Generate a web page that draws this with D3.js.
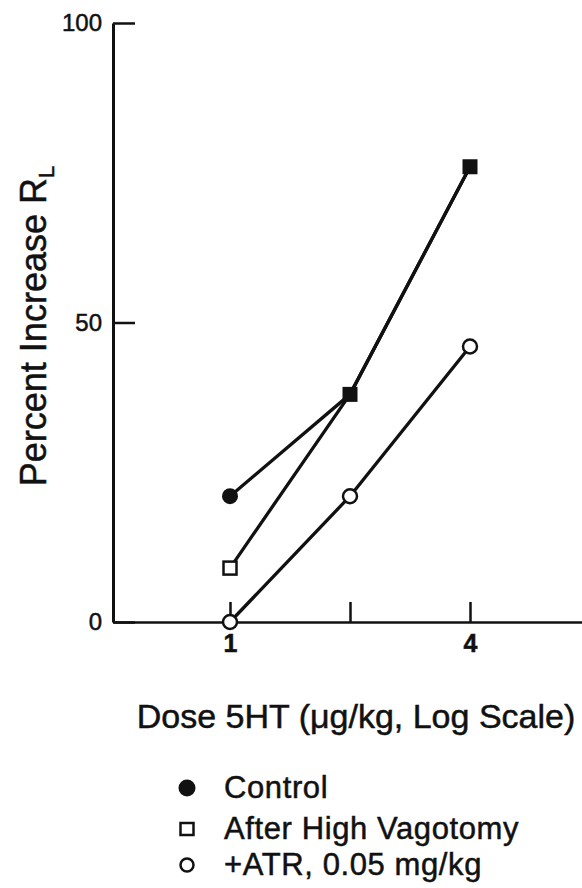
<!DOCTYPE html>
<html>
<head>
<meta charset="utf-8">
<script src="https://cdn.jsdelivr.net/npm/d3@7"></script>
<style>
  html, body { margin: 0; padding: 0; background: #fff; }
  svg { display: block; }
  text { font-family: "Liberation Sans", Arial, Helvetica, sans-serif; fill: #111; stroke: #111; stroke-width: 0.5px; }
</style>
</head>
<body>
<svg id="chart" width="582" height="888"></svg>
<script>
// Dose of 5HT (µg/kg), plotted on a log scale
const doses = [1, 2, 4];
const xTickValues = [1, 2, 4];
const xTickLabels = ["1", "", "4"];
const yTickValues = [0, 50, 100];

// Percent increase in lung resistance (R_L)
const control   = [21, 38, 76];
const vagotomy  = [9, 38, 76];
const atropine  = [0, 21, 46];

const legendLabels = ["Control", "After High Vagotomy", "+ATR, 0.05 mg/kg"];

const svg = d3.select("#chart");
const ink = "#111";

// scales
const x = d3.scaleLog().domain([1, 4]).range([230, 470]);
const y = d3.scaleLinear().domain([0, 100]).range([622, 23]);
const axisLeftX = 113, axisRightX = 582;
const xFull = x.copy().domain([x.invert(axisLeftX), x.invert(axisRightX)]).range([axisLeftX, axisRightX]);

// y axis: ticks point into the plot, labels to the left
const yAxis = d3.axisLeft(y)
  .tickValues(yTickValues)
  .tickSizeInner(-22)
  .tickSizeOuter(0)
  .tickPadding(11)
  .tickFormat(d3.format("d"));
const gy = svg.append("g").attr("transform", `translate(${axisLeftX},0)`).call(yAxis);
gy.select(".domain").attr("stroke", ink).attr("stroke-width", 3);
gy.selectAll(".tick line").attr("stroke", ink).attr("stroke-width", 2.5);
gy.selectAll(".tick text")
  .attr("font-size", 24)
  .attr("font-family", "Liberation Sans, Arial, sans-serif")
  .attr("fill", ink);

// x axis: ticks point upward
const xAxis = d3.axisBottom(xFull)
  .tickValues(xTickValues)
  .tickSizeInner(-20)
  .tickSizeOuter(0)
  .tickPadding(12)
  .tickFormat((d, i) => xTickLabels[i]);
const gx = svg.append("g").attr("transform", `translate(0,${y(0)})`).call(xAxis);
gx.select(".domain").attr("stroke", ink).attr("stroke-width", 2.5);
gx.selectAll(".tick line").attr("stroke", ink).attr("stroke-width", 2.5);
gx.selectAll(".tick text")
  .attr("font-size", 25)
  .attr("font-weight", "bold")
  .attr("font-family", "Liberation Sans, Arial, sans-serif")
  .attr("fill", ink);

// axis titles
const yTitle = svg.append("text")
  .attr("transform", `translate(46,326) rotate(-90)`)
  .attr("text-anchor", "middle")
  .attr("font-size", 36);
yTitle.append("tspan").text("Percent Increase R");
yTitle.append("tspan").attr("font-size", 22).attr("dy", 8).text("L");

svg.append("text")
  .attr("x", 356).attr("y", 728)
  .attr("text-anchor", "middle")
  .attr("font-size", 34)
  .attr("letter-spacing", 0)
  .text("Dose 5HT (\u03bcg/kg, Log Scale)");

// series lines
const line = d3.line().x(d => x(d[0])).y(d => y(d[1]));
const plot = svg.append("g");
[control, vagotomy, atropine].forEach(vals => {
  plot.append("path")
    .datum(doses.map((d, i) => [d, vals[i]]))
    .attr("d", line)
    .attr("fill", "none")
    .attr("stroke", ink)
    .attr("stroke-width", 3.3)
    .attr("stroke-linejoin", "round");
});

// markers: where control and vagotomy coincide, a filled square marks both
const markers = svg.append("g");
doses.forEach((d, i) => {
  if (control[i] === vagotomy[i]) {
    markers.append("rect")
      .attr("x", x(d) - 7.5).attr("y", y(control[i]) - 7.5)
      .attr("width", 15).attr("height", 15)
      .attr("fill", ink);
  } else {
    markers.append("circle")
      .attr("cx", x(d)).attr("cy", y(control[i])).attr("r", 8)
      .attr("fill", ink);
    markers.append("rect")
      .attr("x", x(d) - 6.5).attr("y", y(vagotomy[i]) - 6.5)
      .attr("width", 13).attr("height", 13)
      .attr("fill", "#fff").attr("stroke", ink).attr("stroke-width", 2.5);
  }
  markers.append("circle")
    .attr("cx", x(d)).attr("cy", y(atropine[i])).attr("r", 7)
    .attr("fill", "#fff").attr("stroke", ink).attr("stroke-width", 2.5);
});

// legend
const legendX = 187, textX = 224;
const legendRows = [788, 829, 865];
const lg = svg.append("g");
lg.append("circle").attr("cx", legendX).attr("cy", legendRows[0]).attr("r", 8.5).attr("fill", ink);
lg.append("rect")
  .attr("x", legendX - 6.5).attr("y", legendRows[1] - 6)
  .attr("width", 13).attr("height", 12)
  .attr("fill", "#fff").attr("stroke", ink).attr("stroke-width", 2.5);
lg.append("circle").attr("cx", legendX).attr("cy", legendRows[2]).attr("r", 6.5)
  .attr("fill", "#fff").attr("stroke", ink).attr("stroke-width", 2.5);
legendLabels.forEach((t, i) => {
  lg.append("text")
    .attr("x", textX).attr("y", legendRows[i] + 10)
    .attr("font-size", 31)
    .attr("letter-spacing", 0.6)
    .text(t);
});
</script>
</body>
</html>
